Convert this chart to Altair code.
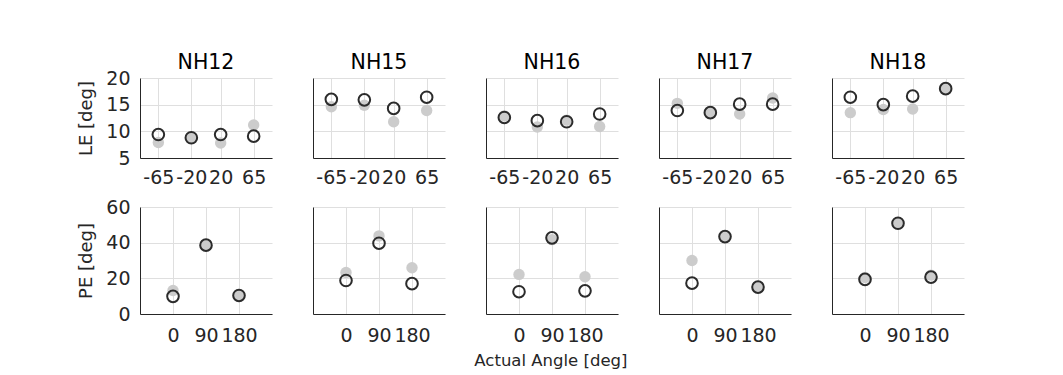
import altair as alt
import pandas as pd

subjects = ["NH12", "NH15", "NH16", "NH17", "NH18"]
lat_angles = [-65, -20, 20, 65]
pol_angles = [0, 90, 180]

# Lateral error [deg]: grey filled dots and open circles, one list per subject
le_gray = [
    [7.9, 8.8, 7.8, 11.2],
    [14.6, 14.9, 11.8, 13.9],
    [12.9, 10.8, 12.1, 10.9],
    [15.25, 13.5, 13.25, 16.25],
    [13.5, 14.1, 14.2, 18.0],
]
le_open = [
    [9.4, 8.8, 9.4, 9.1],
    [16.0, 15.9, 14.3, 16.4],
    [12.6, 12.0, 11.8, 13.25],
    [13.9, 13.5, 15.1, 15.1],
    [16.4, 15.0, 16.6, 18.0],
]
# Polar error [deg]
pe_gray = [
    [13.2, 38.6, 10.4],
    [23.3, 43.8, 25.9],
    [22.2, 41.7, 20.9],
    [30.0, 43.4, 15.1],
    [20.5, 50.9, 21.8],
]
pe_open = [
    [9.9, 38.6, 10.4],
    [18.8, 39.7, 17.0],
    [12.5, 42.7, 13.0],
    [17.3, 43.4, 15.1],
    [19.4, 50.9, 20.7],
]

FONT = "DejaVu Sans"
TXT = "#262626"
GRAY = "#cccccc"
PW = 132


def make_df(angles, gray, opn):
    rows = []
    for a, g, o in zip(angles, gray, opn):
        rows.append({"angle": a, "value": g, "kind": "gray"})
        rows.append({"angle": a, "value": o, "kind": "open"})
    return pd.DataFrame(rows)


def panel(i, top):
    if top:
        df = make_df(lat_angles, le_gray[i], le_open[i])
        xdom, xticks = [-90, 90], lat_angles
        ydom, yticks = [5, 20], [5, 10, 15, 20]
        ph, ytitle = 80, "LE [deg]"
    else:
        df = make_df(pol_angles, pe_gray[i], pe_open[i])
        xdom, xticks = [-90, 270], pol_angles
        ydom, yticks = [0, 60], [0, 20, 40, 60]
        ph, ytitle = 107, "PE [deg]"
    yaxis_kw = dict(values=yticks, ticks=False, grid=True, labelPadding=10,
                    labelExpr="datum.value + ''")
    if i == 0:
        yaxis_kw.update(title=ytitle, titlePadding=10)
    else:
        yaxis_kw.update(title=None, labels=False)
    x = alt.X("angle:Q", scale=alt.Scale(domain=xdom, nice=False, zero=False),
              axis=alt.Axis(values=xticks, title=None, ticks=False, grid=True,
                            labelFlush=False, labelPadding=(10 if top else 12),
                            labelOverlap=False, labelExpr="datum.value + ''"))
    y = alt.Y("value:Q", scale=alt.Scale(domain=ydom, nice=False, zero=False),
              axis=alt.Axis(**yaxis_kw))
    base = alt.Chart(df)
    g = base.transform_filter(alt.datum.kind == "gray").mark_circle(
        size=130, color=GRAY, opacity=1).encode(x=x, y=y)
    o = base.transform_filter(alt.datum.kind == "open").mark_point(
        shape="circle", size=135, filled=False, stroke="#2b2b2b", strokeWidth=2,
        opacity=1).encode(x=x, y=y)
    ch = alt.layer(g, o).properties(width=PW, height=ph)
    if top:
        ch = ch.properties(title=alt.TitleParams(
            subjects[i], fontSize=20.5, font=FONT, fontWeight="normal",
            color="#000000", offset=(-4 if i == 0 else 5)))
    return ch


top_row = alt.hconcat(*[panel(i, True) for i in range(5)], spacing=41)
bot_row = alt.hconcat(
    *[panel(i, False) for i in range(5)], spacing=41,
    title=alt.TitleParams("Actual Angle [deg]", orient="bottom",
                          anchor="middle", fontSize=16.5, font=FONT,
                          fontWeight="normal", color=TXT, offset=8, dx=30))

chart = alt.vconcat(top_row, bot_row, spacing=11).properties(
    padding={"left": 69, "top": 44, "right": 5, "bottom": 5}
).configure_view(stroke=None).configure_axis(
    domainColor=TXT, domainWidth=1, labelColor=TXT, labelFont=FONT,
    labelFontSize=19, titleFont=FONT, titleFontSize=18,
    titleFontWeight="normal", titleColor=TXT, gridColor="#dfdfdf",
    gridWidth=1
).configure_concat(spacing=41)

chart.save("out.html", embed_options={"renderer": "svg", "actions": False})
